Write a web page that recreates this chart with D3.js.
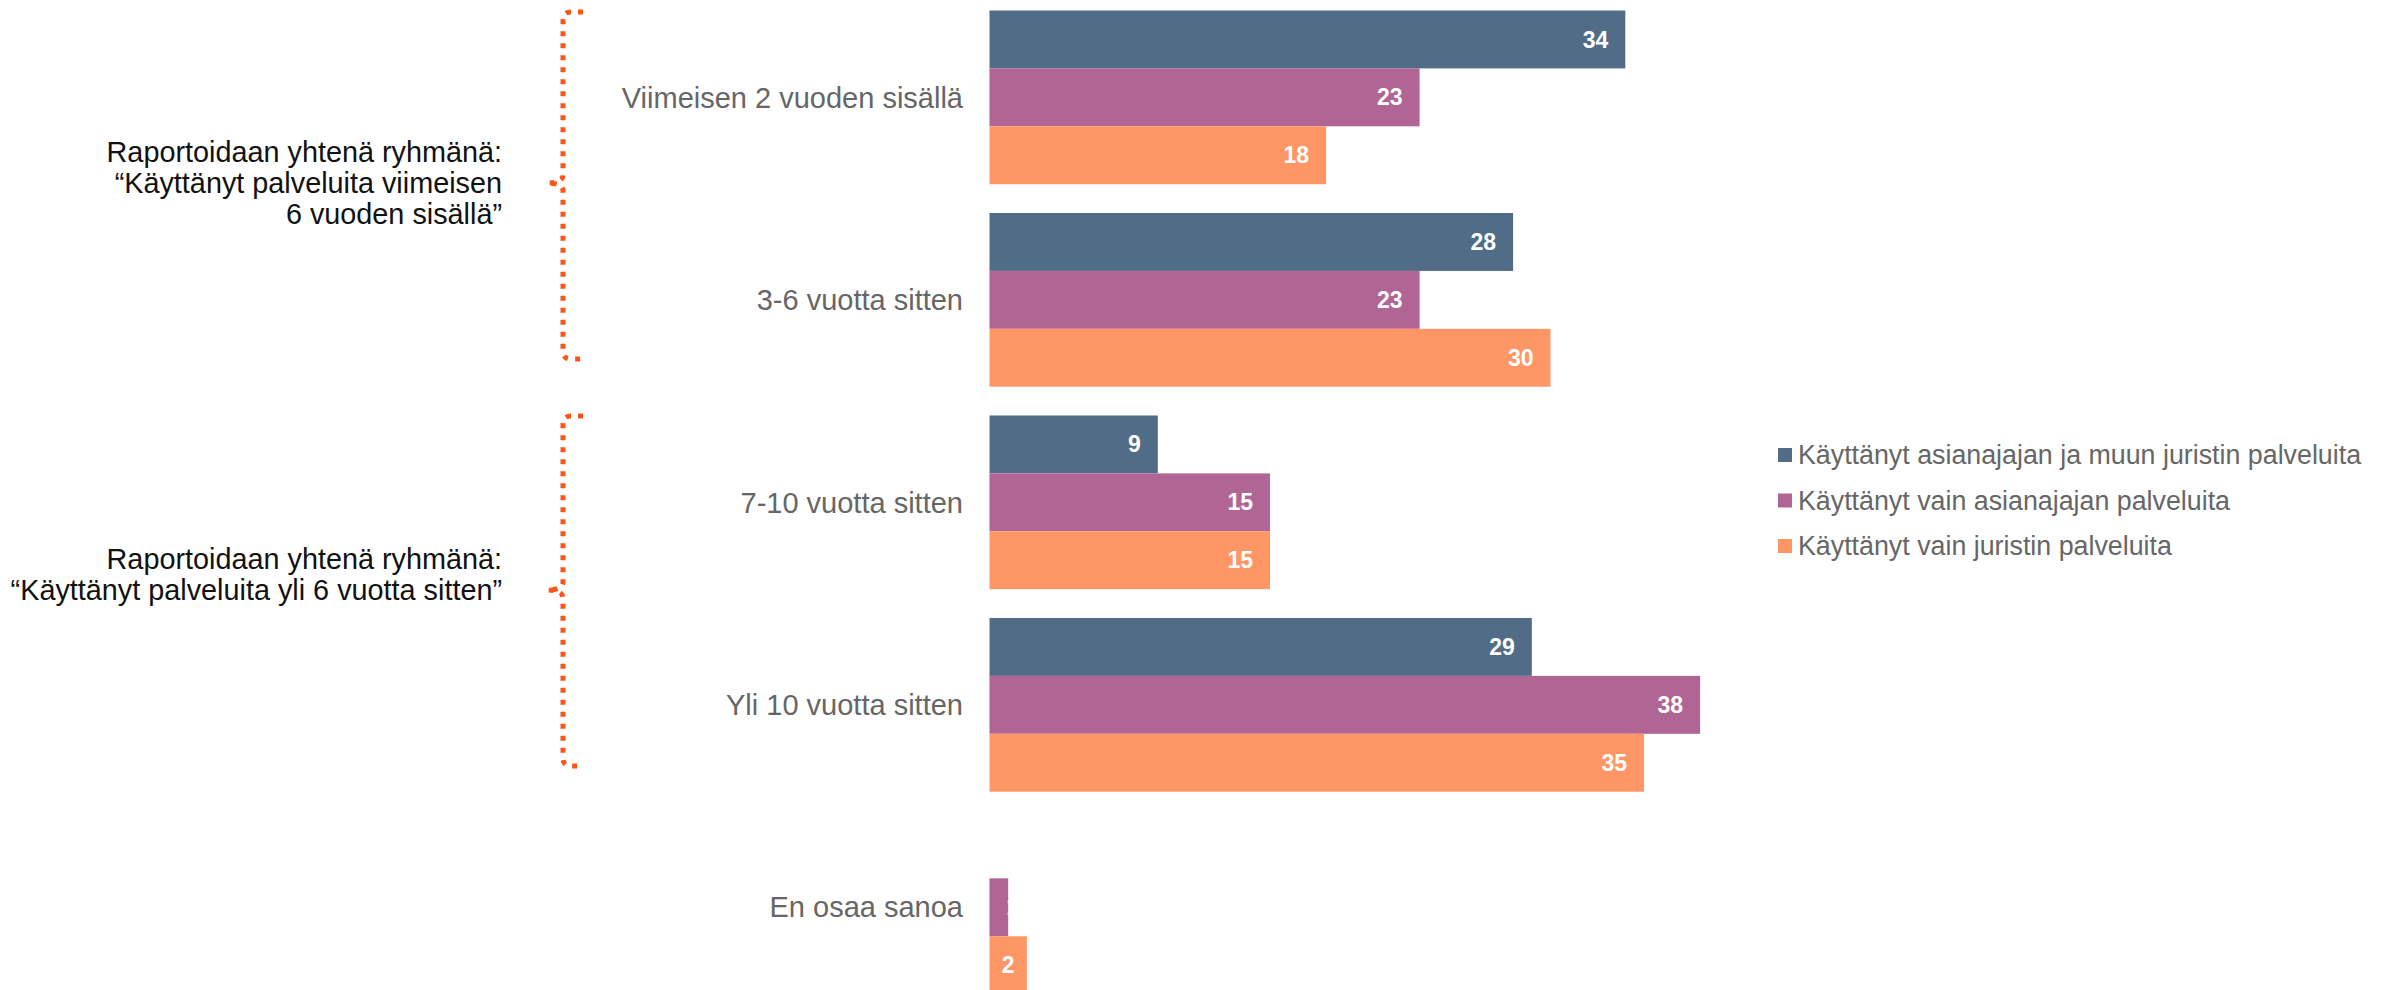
<!DOCTYPE html>
<html>
<head>
<meta charset="utf-8">
<script src="https://cdn.jsdelivr.net/npm/d3@7/dist/d3.min.js"></script>
<style>
  body { margin: 0; background: #fff; }
  svg { display: block; font-family: "Liberation Sans", Arial, sans-serif; }
</style>
</head>
<body>
<div id="chart"></div>
<script>
  'use strict';

  var categories = [
    'Viimeisen 2 vuoden sisällä',
    '3-6 vuotta sitten',
    '7-10 vuotta sitten',
    'Yli 10 vuotta sitten',
    'En osaa sanoa'
  ];
  var seriesNames = [
    'Käyttänyt asianajajan ja muun juristin palveluita',
    'Käyttänyt vain asianajajan palveluita',
    'Käyttänyt vain juristin palveluita'
  ];
  var bothValues = [34, 28, 9, 29, null];
  var advocateOnlyValues = [23, 23, 15, 38, 1];
  var lawyerOnlyValues = [18, 30, 15, 35, 2];
  var seriesColors = ['#506c86', '#b06594', '#ff9666'];
  var groupNotes = [
    ['Raportoidaan yhtenä ryhmänä:', '“Käyttänyt palveluita viimeisen', '6 vuoden sisällä”'],
    ['Raportoidaan yhtenä ryhmänä:', '“Käyttänyt palveluita yli 6 vuotta sitten”']
  ];

  var seriesValues = [bothValues, advocateOnlyValues, lawyerOnlyValues];

  var width = 2387;
  var height = 990;

  var svg = d3.select('#chart')
    .append('svg')
    .attr('width', width)
    .attr('height', height);

  var xScale = d3.scaleLinear().domain([0, 40]).range([989.5, 989.5 + 748]);
  var yScale = d3.scaleBand().domain(categories).range([10.5, 994.2]).paddingInner(0.142);
  var ySeries = d3.scaleBand().domain(d3.range(seriesNames.length)).range([0, yScale.bandwidth()]);

  // One row of bars per category, one bar per series.
  var rows = categories.map(function(c, i) {
    return seriesValues.map(function(vals, s) {
      return { category: c, series: s, value: vals[i] };
    }).filter(function(d) { return d.value !== null; });
  });

  var groups = svg.append('g')
    .attr('class', 'bars')
    .selectAll('g')
    .data(rows)
    .enter().append('g')
    .attr('transform', function(d, i) { return 'translate(0,' + yScale(categories[i]) + ')'; });

  groups.selectAll('rect')
    .data(function(d) { return d; })
    .enter().append('rect')
    .attr('x', xScale(0))
    .attr('y', function(d) { return ySeries(d.series); })
    .attr('width', function(d) { return xScale(d.value) - xScale(0); })
    .attr('height', ySeries.bandwidth())
    .attr('fill', function(d) { return seriesColors[d.series]; });

  // Value labels inside the bar end; labels that do not fit spill out (white on white).
  groups.selectAll('text')
    .data(function(d) { return d; })
    .enter().append('text')
    .attr('y', function(d) { return ySeries(d.series) + ySeries.bandwidth() / 2; })
    .attr('dy', '0.35em')
    .attr('fill', '#fff')
    .style('font-size', '23px')
    .style('font-weight', 'bold')
    .text(function(d) { return d.value; })
    .each(function(d) {
      var barWidth = xScale(d.value) - xScale(0);
      var textWidth = this.getComputedTextLength();
      var el = d3.select(this);
      if (textWidth > barWidth - 8) {
        el.attr('text-anchor', 'start').attr('x', xScale(d.value) - 2);
      } else {
        var pad = Math.min(17, (barWidth - textWidth) / 2);
        el.attr('text-anchor', 'end').attr('x', xScale(d.value) - pad);
      }
    });

  // Category labels.
  svg.append('g')
    .attr('class', 'y labels')
    .selectAll('text')
    .data(categories)
    .enter().append('text')
    .attr('x', 963)
    .attr('y', function(d) { return yScale(d) + yScale.bandwidth() / 2; })
    .attr('dy', '0.35em')
    .attr('text-anchor', 'end')
    .attr('fill', '#666')
    .style('font-size', '29px')
    .text(function(d) { return d; });

  // Dotted curly brackets with their notes.
  var brackets = [
    { top: 12, tip: 183, bottom: 359 },
    { top: 416, tip: 590, bottom: 766 }
  ];
  var braceX = 563;

  function bracePath(b) {
    var p = d3.path();
    p.moveTo(braceX + 20, b.top);
    p.lineTo(braceX + 8, b.top);
    p.quadraticCurveTo(braceX, b.top, braceX, b.top + 8);
    p.lineTo(braceX, b.tip - 8);
    p.quadraticCurveTo(braceX, b.tip, braceX - 16, b.tip);
    p.quadraticCurveTo(braceX, b.tip, braceX, b.tip + 8);
    p.lineTo(braceX, b.bottom - 8);
    p.quadraticCurveTo(braceX, b.bottom, braceX + 8, b.bottom);
    p.lineTo(braceX + 20, b.bottom);
    return p.toString();
  }

  svg.append('g')
    .attr('class', 'brackets')
    .selectAll('path')
    .data(brackets)
    .enter().append('path')
    .attr('d', bracePath)
    .attr('fill', 'none')
    .attr('stroke', '#ff5317')
    .attr('stroke-width', 5)
    .attr('stroke-dasharray', '5,7');

  var notes = svg.append('g').attr('class', 'notes');
  groupNotes.forEach(function(lines, i) {
    notes.selectAll('text.note' + i)
      .data(lines)
      .enter().append('text')
      .attr('class', 'note' + i)
      .attr('x', 502)
      .attr('y', function(d, j) { return brackets[i].tip + (j - 1) * 31; })
      .attr('dy', '0.35em')
      .attr('text-anchor', 'end')
      .attr('fill', '#111')
      .style('font-size', '28.8px')
      .text(function(d) { return d; });
  });

  // Legend.
  var legend = svg.append('g')
    .attr('class', 'legend')
    .selectAll('g')
    .data(seriesNames)
    .enter().append('g')
    .attr('transform', function(d, i) { return 'translate(1778,' + (455 + i * 45.5) + ')'; });

  legend.append('rect')
    .attr('x', 0)
    .attr('y', -7)
    .attr('width', 14)
    .attr('height', 14)
    .attr('fill', function(d, i) { return seriesColors[i]; });

  legend.append('text')
    .attr('x', 20)
    .attr('dy', '0.35em')
    .attr('fill', '#666')
    .style('font-size', '26.8px')
    .text(function(d) { return d; });
</script>
</body>
</html>
